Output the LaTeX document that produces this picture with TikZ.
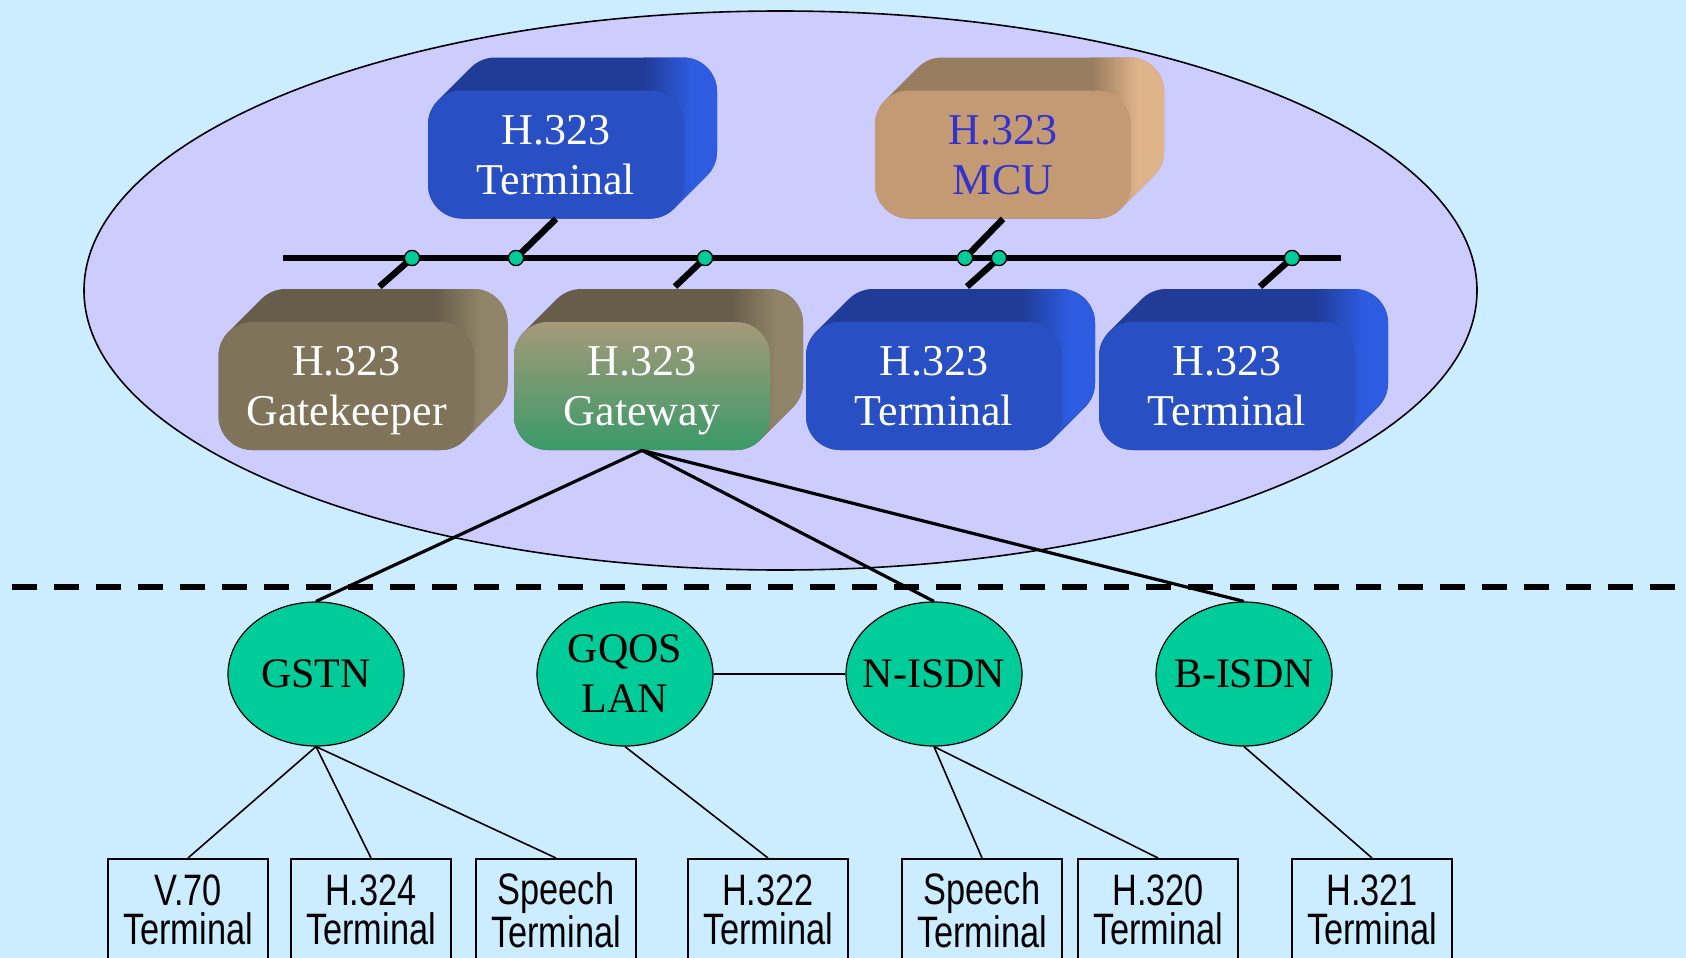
\documentclass[tikz,border=0pt]{standalone}
\usepackage{fontspec}
\setmainfont{Liberation Serif}
\newfontfamily\narrowsans[FakeStretch=0.78]{Liberation Sans}
\usetikzlibrary{shapes.geometric}
\definecolor{pageblue}{RGB}{204,236,255}
\definecolor{lilac}{RGB}{204,204,255}
\definecolor{netgreen}{RGB}{0,204,153}
\definecolor{termfront}{RGB}{40,80,196}
\definecolor{termtop}{RGB}{33,60,152}
\definecolor{termside}{RGB}{45,92,224}
\definecolor{mcufront}{RGB}{196,154,116}
\definecolor{mcutop}{RGB}{152,124,94}
\definecolor{mcuside}{RGB}{224,180,138}
\definecolor{mcutext}{RGB}{51,51,204}
\definecolor{gkfront}{RGB}{127,116,90}
\definecolor{gktop}{RGB}{102,93,74}
\definecolor{gkside}{RGB}{145,133,105}
\definecolor{gwtop}{RGB}{166,153,121}
\definecolor{gwbottom}{RGB}{58,154,104}
\tikzstyle{frontFace}=[rectangle, rounded corners=17pt, minimum width=128pt, minimum height=64pt, inner sep=0pt, align=center, text=white, text depth=0pt, font=\fontsize{22}{25}\selectfont]
\tikzstyle{netCloud}=[ellipse, draw, fill=netgreen, line width=0.6pt, minimum width=88pt, minimum height=72pt, inner xsep=-14pt, inner ysep=0pt, align=center, font=\fontsize{21}{25}\selectfont]
\tikzstyle{endBox}=[rectangle, draw, line width=0.8pt, minimum width=80pt, minimum height=51pt, inner sep=0pt, anchor=north, align=center, font=\narrowsans\fontsize{22}{19.5}\selectfont]
\newcommand{\boxHull}{(-118.04,54.04) -- (-85.04,87.04) arc[start angle=135, end angle=90, radius=34] -- (127,97) arc[start angle=90, end angle=0, radius=34] -- (161,3) arc[start angle=0, end angle=-45, radius=34] -- (118.04,-54.04) arc[start angle=-45, end angle=-90, radius=34] -- (-94,-64) arc[start angle=-90, end angle=-180, radius=34] -- (-128,30) arc[start angle=180, end angle=135, radius=34] -- cycle}
\newcommand{\solidBack}[4]{%
  \begin{scope}[shift={(#1,#2)}, yscale=-1]
    \fill[#3] \boxHull;
    \begin{scope}
      \clip \boxHull;
      \shade[left color=#3, right color=#4] (88,-70) rectangle (135,100);
      \fill[#4] (135,-70) rectangle (170,100);
    \end{scope}
  \end{scope}}

\begin{document}
\begin{tikzpicture}[x=0.5pt, y=-0.5pt]
\tikzstyle{busLine}=[line width=3.2pt]
\tikzstyle{busTap}=[circle, draw, fill=netgreen, line width=0.6pt, minimum size=7.5pt, inner sep=0pt]
\tikzstyle{trunkLine}=[line width=1.6pt]
\tikzstyle{accessLine}=[line width=0.8pt]
\useasboundingbox (0,0) rectangle (1686,958);
\clip (0,0) rectangle (1686,958);
\fill[pageblue] (0,0) rectangle (1686,958);
\draw[fill=lilac, line width=0.8pt] (780.5,290.5) ellipse [x radius=696.5, y radius=279.5];

\solidBack{556}{154.5}{termtop}{termside}
\node[frontFace, fill=termfront] (t1) at (556,154.5) {H.323\\Terminal};
\solidBack{1003}{154.5}{mcutop}{mcuside}
\node[frontFace, fill=mcufront, text=mcutext] (mcu) at (1003,154.5) {H.323\\MCU};
\solidBack{346.5}{386}{gktop}{gkside}
\node[frontFace, fill=gkfront] (gk) at (346.5,386) {H.323\\Gatekeeper};
\solidBack{642}{386}{gktop}{gkside}
\node[frontFace, top color=gwtop, bottom color=gwbottom] (gw) at (642,386) {H.323\\Gateway};
\solidBack{934}{386}{termtop}{termside}
\node[frontFace, fill=termfront] (t2) at (934,386) {H.323\\Terminal};
\solidBack{1227}{386}{termtop}{termside}
\node[frontFace, fill=termfront] (t3) at (1227,386) {H.323\\Terminal};

\coordinate (busL) at (283,258);
\coordinate (busR) at (1341,258);
\coordinate (gk back) at ([shift={(33,-35)}]gk.north);
\coordinate (gw back) at ([shift={(33,-35)}]gw.north);
\coordinate (t2 back) at ([shift={(33,-35)}]t2.north);
\coordinate (t3 back) at ([shift={(33,-35)}]t3.north);
\draw[busLine] (busL) -- (busR);
\node[busTap] (d1) at (412,258) {};
\node[busTap] (d2) at (516,258) {};
\node[busTap] (d3) at (705,258) {};
\node[busTap] (d4) at (965,258) {};
\node[busTap] (d5) at (999,258) {};
\node[busTap] (d6) at (1292,258) {};
\draw[busLine] (t1.south) -- (d2.center);
\draw[busLine] (mcu.south) -- (d4.center);
\draw[busLine] (gk back) -- (d1.center);
\draw[busLine] (gw back) -- (d3.center);
\draw[busLine] (t2 back) -- (d5.center);
\draw[busLine] (t3 back) -- (d6.center);
\foreach \d in {d1,d2,d3,d4,d5,d6}
  \node[busTap] at (\d) {};

\draw[line width=3pt, dash pattern=on 12.5pt off 8.5pt] (12,587) -- (1686,587);

\node[netCloud] (gstn) at (316,674) {GSTN};
\node[netCloud] (lan) at (625,674) {GQOS\\LAN};
\node[netCloud] (nisdn) at (934,674) {N-ISDN};
\node[netCloud] (bisdn) at (1244,674) {B-ISDN};
\draw[trunkLine] (gw.south) -- (gstn.north);
\draw[trunkLine] (gw.south) -- (nisdn.north);
\draw[trunkLine] (gw.south) -- (bisdn.north);
\draw[accessLine] (lan) -- (nisdn);

\node[endBox] (v70) at (188,858) {V.70\\Terminal};
\node[endBox] (h324) at (371,858) {H.324\\Terminal};
\node[endBox] (sp1) at (556,858) {Speech\\Terminal};
\node[endBox] (h322) at (768,858) {H.322\\Terminal};
\node[endBox] (sp2) at (982,858) {Speech\\Terminal};
\node[endBox] (h320) at (1158,858) {H.320\\Terminal};
\node[endBox] (h321) at (1372,858) {H.321\\Terminal};
\draw[accessLine] (gstn.south) -- (v70.north);
\draw[accessLine] (gstn.south) -- (h324.north);
\draw[accessLine] (gstn.south) -- (sp1.north);
\draw[accessLine] (lan.south) -- (h322.north);
\draw[accessLine] (nisdn.south) -- (sp2.north);
\draw[accessLine] (nisdn.south) -- (h320.north);
\draw[accessLine] (bisdn.south) -- (h321.north);
\end{tikzpicture}
\end{document}
